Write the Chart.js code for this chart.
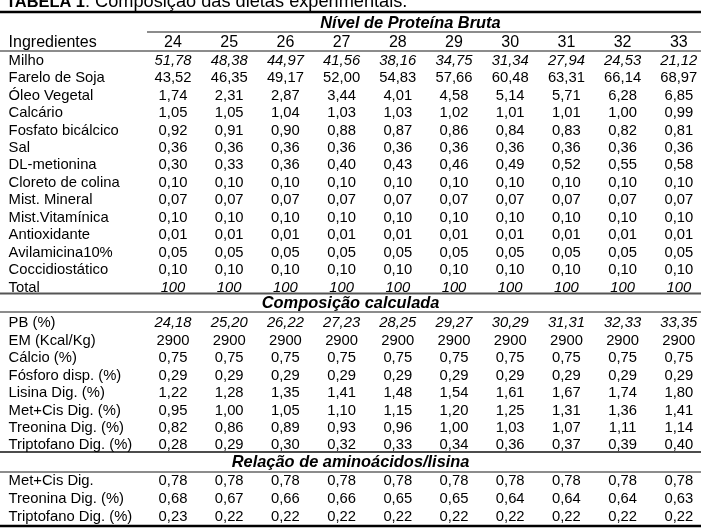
<!DOCTYPE html>
<html>
<head>
<meta charset="utf-8">
<script src="https://cdn.jsdelivr.net/npm/chart.js@4"></script>
<style>
  html, body { margin: 0; padding: 0; background: #fff; }
  #wrap { width: 701px; height: 530px; }
</style>
</head>
<body>
<div id="wrap"><canvas id="tabela"></canvas></div>
<script>
// Níveis de proteína bruta (colunas)
const proteinLevels = ['24', '25', '26', '27', '28', '29', '30', '31', '32', '33'];

// Ingredientes (%)
const ingredientNames = ['Milho', 'Farelo de Soja', 'Óleo Vegetal', 'Calcário', 'Fosfato bicálcico', 'Sal',
  'DL-metionina', 'Cloreto de colina', 'Mist. Mineral', 'Mist.Vitamínica', 'Antioxidante',
  'Avilamicina10%', 'Coccidiostático', 'Total'];
const milho       = [51.78, 48.38, 44.97, 41.56, 38.16, 34.75, 31.34, 27.94, 24.53, 21.12];
const fareloSoja  = [43.52, 46.35, 49.17, 52.00, 54.83, 57.66, 60.48, 63.31, 66.14, 68.97];
const oleoVegetal = [1.74, 2.31, 2.87, 3.44, 4.01, 4.58, 5.14, 5.71, 6.28, 6.85];
const calcario    = [1.05, 1.05, 1.04, 1.03, 1.03, 1.02, 1.01, 1.01, 1.00, 0.99];
const fosfato     = [0.92, 0.91, 0.90, 0.88, 0.87, 0.86, 0.84, 0.83, 0.82, 0.81];
const sal         = [0.36, 0.36, 0.36, 0.36, 0.36, 0.36, 0.36, 0.36, 0.36, 0.36];
const metionina   = [0.30, 0.33, 0.36, 0.40, 0.43, 0.46, 0.49, 0.52, 0.55, 0.58];
const colina      = [0.10, 0.10, 0.10, 0.10, 0.10, 0.10, 0.10, 0.10, 0.10, 0.10];
const mineral     = [0.07, 0.07, 0.07, 0.07, 0.07, 0.07, 0.07, 0.07, 0.07, 0.07];
const vitaminica  = [0.10, 0.10, 0.10, 0.10, 0.10, 0.10, 0.10, 0.10, 0.10, 0.10];
const antioxidante = [0.01, 0.01, 0.01, 0.01, 0.01, 0.01, 0.01, 0.01, 0.01, 0.01];
const avilamicina = [0.05, 0.05, 0.05, 0.05, 0.05, 0.05, 0.05, 0.05, 0.05, 0.05];
const coccidiostatico = [0.10, 0.10, 0.10, 0.10, 0.10, 0.10, 0.10, 0.10, 0.10, 0.10];
const total       = [100, 100, 100, 100, 100, 100, 100, 100, 100, 100];
const ingredientRows = [milho, fareloSoja, oleoVegetal, calcario, fosfato, sal, metionina, colina,
  mineral, vitaminica, antioxidante, avilamicina, coccidiostatico, total];

// Composição calculada
const calcNames = ['PB (%)', 'EM (Kcal/Kg)', 'Cálcio (%)', 'Fósforo disp. (%)', 'Lisina Dig. (%)',
  'Met+Cis Dig. (%)', 'Treonina Dig. (%)', 'Triptofano Dig. (%)'];
const pb        = [24.18, 25.20, 26.22, 27.23, 28.25, 29.27, 30.29, 31.31, 32.33, 33.35];
const em        = [2900, 2900, 2900, 2900, 2900, 2900, 2900, 2900, 2900, 2900];
const calcio    = [0.75, 0.75, 0.75, 0.75, 0.75, 0.75, 0.75, 0.75, 0.75, 0.75];
const fosforo   = [0.29, 0.29, 0.29, 0.29, 0.29, 0.29, 0.29, 0.29, 0.29, 0.29];
const lisina    = [1.22, 1.28, 1.35, 1.41, 1.48, 1.54, 1.61, 1.67, 1.74, 1.80];
const metCis    = [0.95, 1.00, 1.05, 1.10, 1.15, 1.20, 1.25, 1.31, 1.36, 1.41];
const treonina  = [0.82, 0.86, 0.89, 0.93, 0.96, 1.00, 1.03, 1.07, 1.11, 1.14];
const triptofano = [0.28, 0.29, 0.30, 0.32, 0.33, 0.34, 0.36, 0.37, 0.39, 0.40];
const calcRows = [pb, em, calcio, fosforo, lisina, metCis, treonina, triptofano];

// Relação de aminoácidos/lisina
const ratioNames = ['Met+Cis Dig.', 'Treonina Dig. (%)', 'Triptofano Dig. (%)'];
const metCisLis     = [0.78, 0.78, 0.78, 0.78, 0.78, 0.78, 0.78, 0.78, 0.78, 0.78];
const treoninaLis   = [0.68, 0.67, 0.66, 0.66, 0.65, 0.65, 0.64, 0.64, 0.64, 0.63];
const triptofanoLis = [0.23, 0.22, 0.22, 0.22, 0.22, 0.22, 0.22, 0.22, 0.22, 0.22];
const ratioRows = [metCisLis, treoninaLis, triptofanoLis];

const italicRows = ['Milho', 'Total', 'PB (%)'];

const FONT = '"Liberation Sans", Arial, sans-serif';
const LABEL_X = -2.925;   // x value of the left label column
const LEFT_EDGE = -3.078;
const GRAY = '#8c8c8c';

function fmt(v) {
  if (Number.isInteger(v) && v >= 100) return String(v);
  return v.toFixed(2).replace('.', ',');
}

// one dataset per row: a left label plus ten value cells
const datasets = [];
function addRow(name, values, slot) {
  datasets.push({
    data: [{ x: LABEL_X, y: slot, text: name, align: 'left' }].concat(
      values.map((v, i) => ({ x: i, y: slot, text: fmt(v), align: 'center', italic: italicRows.includes(name) }))
    ),
    size: 14.8
  });
}

ingredientNames.forEach((n, i) => addRow(n, ingredientRows[i], i - 0.05));
calcNames.forEach((n, i) => addRow(n, calcRows[i], 15 + i));
ratioNames.forEach((n, i) => addRow(n, ratioRows[i], 24.05 + i * 1.03));

// column header row
datasets.push({
  data: [{ x: LABEL_X, y: -1.06, text: 'Ingredientes', align: 'left' }].concat(
    proteinLevels.map((p, i) => ({ x: i, y: -1.06, text: p, align: 'center' }))),
  size: 16
});

// section headings
datasets.push({
  data: [
    { x: 4.225, y: -2.2, text: 'Nível de Proteína Bruta', align: 'center' },
    { x: 3.16, y: 13.86, text: 'Composição calculada', align: 'center' },
    { x: 3.16, y: 23.0, text: 'Relação de aminoácidos/lisina', align: 'center' }
  ],
  size: 16.4, bold: true, italicAll: true
});

// horizontal rules [y slot, x start, colour, width]
const rules = [
  [-2.84, LEFT_EDGE, '#000', 2.5],
  [-1.69, -0.462, GRAY, 2],
  [-0.60, LEFT_EDGE, GRAY, 2],
  [13.30, LEFT_EDGE, '#555', 2],
  [14.36, LEFT_EDGE, GRAY, 2],
  [22.38, LEFT_EDGE, '#111', 1.6],
  [23.52, LEFT_EDGE, GRAY, 2],
  [26.62, LEFT_EDGE, '#000', 2.5]
];

const tablePlugin = {
  id: 'tablePlugin',
  afterDatasetsDraw(chart) {
    const { ctx, scales: { x, y } } = chart;
    ctx.save();

    rules.forEach(([slot, x0, color, w]) => {
      const py = y.getPixelForValue(slot);
      ctx.strokeStyle = color;
      ctx.lineWidth = w;
      ctx.beginPath();
      ctx.moveTo(x.getPixelForValue(x0), py);
      ctx.lineTo(x.right, py);
      ctx.stroke();
    });

    ctx.fillStyle = '#000';
    ctx.textBaseline = 'middle';
    chart.data.datasets.forEach((ds, di) => {
      const meta = chart.getDatasetMeta(di);
      meta.data.forEach((pt, j) => {
        const cell = ds.data[j];
        const italic = ds.italicAll || cell.italic ? 'italic ' : '';
        const bold = ds.bold ? 'bold ' : '';
        ctx.font = italic + bold + ds.size + 'px ' + FONT;
        ctx.textAlign = cell.align;
        ctx.fillText(cell.text, pt.x, pt.y);
      });
    });

    // title, partly cut off by the top edge
    const ty = y.getPixelForValue(-3.12);
    let tx = 6;
    ctx.textAlign = 'left';
    ctx.textBaseline = 'alphabetic';
    ctx.font = 'bold 16.4px ' + FONT;
    ctx.fillText('TABELA 1', tx, ty);
    tx += ctx.measureText('TABELA 1').width;
    ctx.font = '18.2px ' + FONT;
    ctx.fillText(': Composição das dietas experimentais.', tx, ty);

    ctx.restore();
  }
};

new Chart(document.getElementById('tabela'), {
  type: 'scatter',
  data: { datasets: datasets },
  options: {
    responsive: true,
    maintainAspectRatio: false,
    animation: false,
    events: [],
    layout: { padding: 0 },
    elements: { point: { radius: 0, hoverRadius: 0 } },
    plugins: { legend: { display: false }, tooltip: { enabled: false } },
    scales: {
      x: { type: 'linear', display: false, min: -3.078, max: 9.395 },
      y: { type: 'linear', display: false, reverse: true, min: -3.524, max: 26.848 }
    }
  },
  plugins: [tablePlugin]
});
</script>
</body>
</html>
